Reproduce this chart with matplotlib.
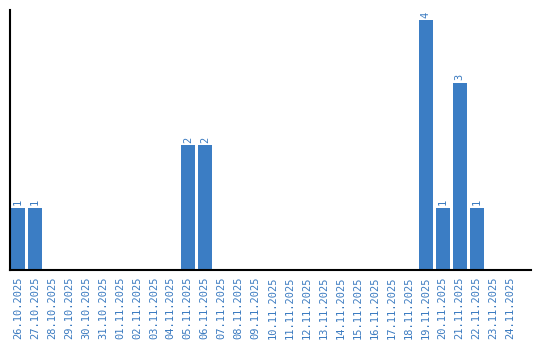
import matplotlib
matplotlib.use("Agg")
import matplotlib.pyplot as plt

# daily counts
dates = ["26.10.2025", "27.10.2025", "28.10.2025", "29.10.2025", "30.10.2025",
         "31.10.2025", "01.11.2025", "02.11.2025", "03.11.2025", "04.11.2025",
         "05.11.2025", "06.11.2025", "07.11.2025", "08.11.2025", "09.11.2025",
         "10.11.2025", "11.11.2025", "12.11.2025", "13.11.2025", "14.11.2025",
         "15.11.2025", "16.11.2025", "17.11.2025", "18.11.2025", "19.11.2025",
         "20.11.2025", "21.11.2025", "22.11.2025", "23.11.2025", "24.11.2025"]
counts = [1, 1, 0, 0, 0, 0, 0, 0, 0, 0,
          2, 2, 0, 0, 0, 0, 0, 0, 0, 0,
          0, 0, 0, 0, 4, 1, 3, 1, 0, 0]

bar_color = "#3b7dc4"
text_color = "#3a7ac0"

fig = plt.figure(figsize=(5.4, 3.4), dpi=100)
ax = fig.add_axes([10 / 540, 70 / 340, 521 / 540, 260 / 340])

x = list(range(len(dates)))
ax.bar(x, counts, width=0.82, color=bar_color)

for xi, c in zip(x, counts):
    if c > 0:
        ax.text(xi, c + 0.04, str(c), rotation=90, ha="center", va="bottom",
                color=text_color, fontsize=7.5, family="DejaVu Sans Mono")

ax.set_xlim(-0.47, 30.2)
ax.set_ylim(0, 4.16)
ax.set_xticks(x)
ax.set_xticklabels(dates, rotation=90, color=text_color, fontsize=7.5,
                   family="DejaVu Sans Mono")
ax.tick_params(axis="x", length=0, pad=5)
ax.set_yticks([])

for side in ["top", "right"]:
    ax.spines[side].set_visible(False)
ax.spines["left"].set_linewidth(1.5)
ax.spines["bottom"].set_linewidth(1.5)

fig.savefig("out.png", dpi=100)
